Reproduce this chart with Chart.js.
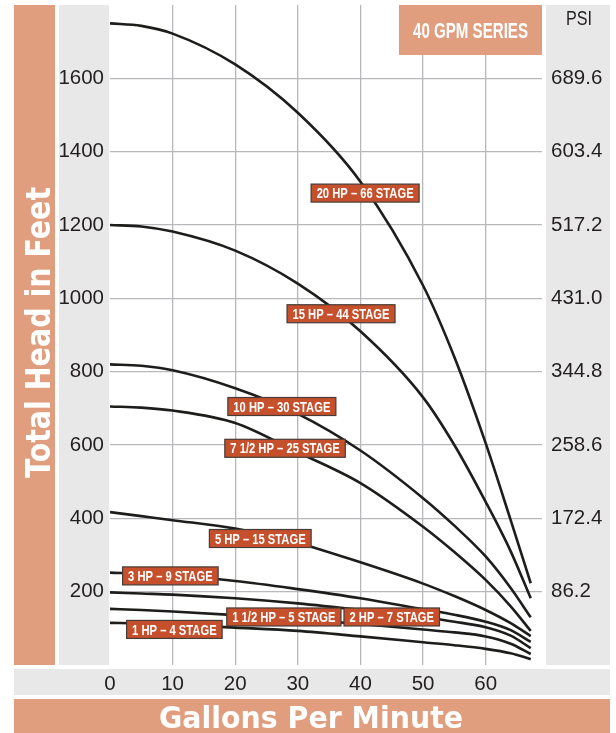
<!DOCTYPE html>
<html>
<head>
<meta charset="utf-8">
<title>40 GPM Series</title>
<script src="https://cdn.jsdelivr.net/npm/chart.js@4.4.1/dist/chart.umd.min.js"></script>
<style>
    body { margin: 0; background: #fff; }
    #wrap { width: 616px; height: 733px; }
</style>
</head>
<body>
<div id="wrap"><canvas id="pumpChart" width="616" height="733"></canvas></div>
<script>
// flow points (gpm) shared by every curve
const gpm = [0, 5, 10, 20, 30, 40, 50, 55, 60, 64, 67.2];

// total head in feet at each flow point
const hp20 = [1750, 1743, 1722, 1638, 1506, 1318, 1035, 840, 605, 395, 223];
const hp15 = [1200, 1196, 1182, 1130, 1040, 910, 730, 600, 445, 310, 182];
const hp10 = [820, 816, 804, 755, 685, 585, 455, 380, 296, 210, 130];
const hp7half = [705, 702, 694, 660, 580, 496, 377, 308, 232, 160, 93];
const hp5 = [417, 406, 395, 372, 333, 280, 222, 188, 150, 114, 79];
const hp3 = [252, 249, 244, 229, 207, 182, 152, 137, 118, 95, 63];
const hp2 = [198, 195, 192, 182, 168, 150, 130, 118, 103, 80, 46];
const hp1half = [153, 150, 146, 136, 125, 112, 97, 89, 78, 58, 30];
const hp1 = [115, 113, 110, 102, 93, 78, 62, 54, 44, 32, 16];

const pumpNames = ['20 HP – 66 STAGE', '15 HP – 44 STAGE', '10 HP – 30 STAGE', '7 1/2 HP – 25 STAGE',
    '5 HP – 15 STAGE', '3 HP – 9 STAGE', '2 HP – 7 STAGE', '1 1/2 HP – 5 STAGE', '1 HP – 4 STAGE'];

// where each name tag sits, in gpm / feet
const tagGpm = [40.75, 36.9, 27.45, 27.96, 24.0, 9.64, 45.0, 27.77, 10.28];
const tagFeet = [1287, 958, 705, 591, 345, 243, 131, 131, 97];

const xTicks = [0, 10, 20, 30, 40, 50, 60];
const yTicks = [200, 400, 600, 800, 1000, 1200, 1400, 1600];
const psiPerFoot = 0.431;

const salmon = '#e19e7e';
const band = '#e8e8e8';
const gridGray = '#b7b8bc';
const sans = '"Liberation Sans", Arial, sans-serif';

const curves = [hp20, hp15, hp10, hp7half, hp5, hp3, hp2, hp1half, hp1];

const decor = {
    id: 'decor',
    beforeDraw(chart) {
        const { ctx, chartArea: a, width, height } = chart;
        ctx.save();
        ctx.fillStyle = '#fff';
        ctx.fillRect(0, 0, width, height);

        // bands round the plot
        ctx.fillStyle = salmon;
        ctx.fillRect(14, a.top, 41, a.bottom - a.top);
        ctx.fillRect(14, 699, 596, height - 699);
        ctx.fillStyle = band;
        ctx.fillRect(59, a.top, a.left - 60, a.bottom - a.top);
        ctx.fillRect(546, a.top, 64, a.bottom - a.top);
        ctx.fillRect(14, 669, 596, 26);

        // axis titles
        ctx.fillStyle = '#fff';
        ctx.textAlign = 'center';
        ctx.textBaseline = 'alphabetic';
        ctx.font = 'bold 31px "DejaVu Sans"';
        ctx.fillText('Gallons Per Minute', 311, 728, 304);

        ctx.translate(50, 332.5);
        ctx.rotate(-Math.PI / 2);
        ctx.font = 'bold 33px "DejaVu Sans"';
        ctx.fillText('Total Head in Feet', 0, 0, 291);
        ctx.restore();

        ctx.save();
        ctx.fillStyle = '#231f20';
        ctx.textAlign = 'center';
        ctx.font = '20px ' + sans;
        ctx.fillText('PSI', 579, 25, 26);
        ctx.restore();
    },
    beforeDatasetsDraw(chart) {
        const { ctx, chartArea: a } = chart;
        ctx.save();
        ctx.fillStyle = salmon;
        ctx.fillRect(399, a.top, a.right - 399, 50);
        ctx.fillStyle = '#fff';
        ctx.textAlign = 'center';
        ctx.font = 'bold 22px ' + sans;
        ctx.fillText('40 GPM SERIES', (399 + a.right) / 2, a.top + 32.5, 115);
        ctx.restore();
    },
    afterDatasetsDraw(chart) {
        const { ctx } = chart;
        const xs = chart.scales.x;
        const ys = chart.scales.y;
        ctx.save();
        ctx.font = 'bold 15px ' + sans;
        const squeeze = 97 / ctx.measureText(pumpNames[0]).width;
        ctx.textAlign = 'center';
        ctx.textBaseline = 'middle';
        pumpNames.forEach((name, i) => {
            const px = xs.getPixelForValue(tagGpm[i]);
            const py = ys.getPixelForValue(tagFeet[i]);
            const tw = ctx.measureText(name).width * squeeze;
            const bw = tw + 11;
            ctx.fillStyle = '#c5502b';
            ctx.fillRect(px - bw / 2, py - 9, bw, 18);
            ctx.strokeStyle = '#463c38';
            ctx.lineWidth = 1.2;
            ctx.strokeRect(px - bw / 2, py - 9, bw, 18);
            ctx.fillStyle = '#fff';
            ctx.fillText(name, px, py + 1, tw);
        });
        ctx.restore();
    }
};

const tickFont = { family: sans, size: 20.5 };

// keep the plot box fixed: no extra room for half tick labels
function noVerticalPad(s) {
    s.paddingTop = 0;
    s.paddingBottom = 0;
}

new Chart(document.getElementById('pumpChart'), {
    type: 'scatter',
    data: {
        datasets: curves.map((head, i) => ({
            label: pumpNames[i],
            data: gpm.map((g, j) => ({ x: g, y: head[j] })),
            showLine: true,
            borderColor: '#1d1d1b',
            borderWidth: 2.6,
            pointRadius: 0,
            cubicInterpolationMode: 'monotone'
        }))
    },
    options: {
        responsive: false,
        animation: false,
        layout: { padding: { left: 14, top: 5, right: 0, bottom: 0 } },
        plugins: {
            legend: { display: false },
            tooltip: { enabled: false }
        },
        scales: {
            x: {
                type: 'linear',
                min: 0,
                max: 69,
                afterBuildTicks: s => { s.ticks = xTicks.map(v => ({ value: v })); },
                afterFit: s => { s.height = 68; s.paddingLeft = 0; s.paddingRight = 0; },
                border: { display: false },
                grid: {
                    drawTicks: false,
                    lineWidth: 1.3,
                    color: c => (c.tick && c.tick.value === 0) ? 'rgba(0,0,0,0)' : gridGray
                },
                ticks: { padding: 7, color: '#231f20', font: tickFont, maxRotation: 0, callback: v => String(v) }
            },
            y: {
                type: 'linear',
                position: 'left',
                min: 0,
                max: 1800,
                afterBuildTicks: s => { s.ticks = yTicks.map(v => ({ value: v })); },
                afterFit: s => { s.width = 96; noVerticalPad(s); },
                border: { display: false },
                grid: { drawTicks: false, lineWidth: 1.3, color: gridGray },
                ticks: { padding: 6, color: '#231f20', font: tickFont, callback: v => String(v) }
            },
            y2: {
                type: 'linear',
                position: 'right',
                min: 0,
                max: 1800,
                afterBuildTicks: s => { s.ticks = yTicks.map(v => ({ value: v })); },
                afterFit: s => { s.width = 74; noVerticalPad(s); },
                border: { display: false },
                grid: { display: false, drawTicks: false },
                ticks: {
                    padding: 9,
                    color: '#231f20',
                    font: tickFont,
                    callback: v => (v * psiPerFoot).toFixed(1)
                }
            }
        }
    },
    plugins: [decor]
});
</script>
</body>
</html>
